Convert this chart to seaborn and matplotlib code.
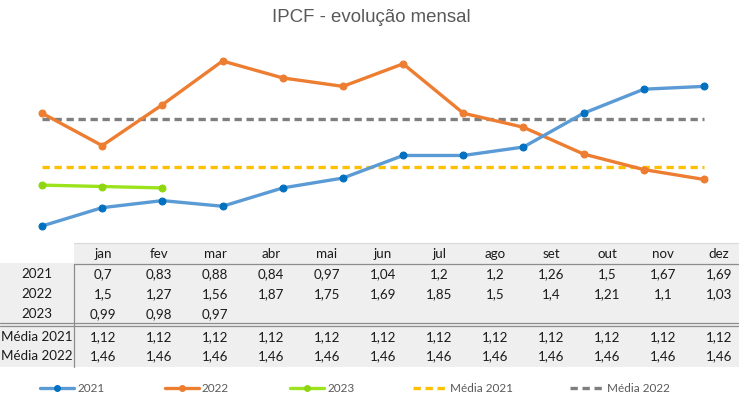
import numpy as np
import pandas as pd
import seaborn as sns
import matplotlib.pyplot as plt

months = ["jan", "fev", "mar", "abr", "mai", "jun", "jul", "ago", "set", "out", "nov", "dez"]
ipcf2021 = [0.7, 0.83, 0.88, 0.84, 0.97, 1.04, 1.2, 1.2, 1.26, 1.5, 1.67, 1.69]
ipcf2022 = [1.5, 1.27, 1.56, 1.87, 1.75, 1.69, 1.85, 1.5, 1.4, 1.21, 1.1, 1.03]
ipcf2023 = [0.99, 0.98, 0.97]
media2021 = [1.12] * 12
media2022 = [1.46] * 12

sns.set_theme(style="white")
plt.rcParams["font.family"] = ["Liberation Sans", "DejaVu Sans"]

W, H = 739, 398
fig = plt.figure(figsize=(W / 100, H / 100), dpi=100)


def px(x0, y0, x1, y1):
    return [x0 / W, 1 - y1 / H, (x1 - x0) / W, (y1 - y0) / H]


# chart area
ax = fig.add_axes(px(42, 61, 704, 226))
series = [
    ("Média 2022", media2022, "#7f7f7f", "#7f7f7f", True),
    ("Média 2021", media2021, "#ffc000", "#ffc000", True),
    ("2023", ipcf2023, "#9be31c", "#8fd610", False),
    ("2022", ipcf2022, "#ed7d31", "#ed7d31", False),
    ("2021", ipcf2021, "#5b9bd5", "#0070c0", False),
]
for name, vals, col, mcol, dashed in series:
    d = pd.DataFrame({"m": np.arange(len(vals)), "v": vals})
    sns.lineplot(data=d, x="m", y="v", ax=ax, color=col, linewidth=2.4,
                 linestyle=(0, (2.2, 1.4)) if dashed else "-",
                 marker=None if dashed else "o", markersize=5,
                 markerfacecolor=mcol, markeredgecolor=mcol, clip_on=False)
ax.set_xlim(0, 11)
ax.set_ylim(0.7, 1.87)
ax.axis("off")

# overlay in pixel coordinates for title, table, legend
ov = fig.add_axes([0, 0, 1, 1], zorder=-1)
ov.set_xlim(0, W)
ov.set_ylim(H, 0)
ov.axis("off")

ov.text(371, 17, "IPCF - evolução mensal", ha="center", va="center",
        fontsize=13.4, color="#595959")

bg = "#efefef"
ov.add_patch(plt.Rectangle((74, 243), W - 74, 20, color=bg, lw=0))
ov.add_patch(plt.Rectangle((0, 263), W, 104, color=bg, lw=0))
ov.plot([74, W], [243, 243], color="#d9d9d9", lw=0.8)
ov.plot([74, W], [263.5, 263.5], color="#8c8c8c", lw=0.9)
ov.plot([74, 74], [263.5, 367], color="#8c8c8c", lw=0.9)
ov.plot([0, W], [323, 323], color="#8c8c8c", lw=0.9)
ov.plot([0, W], [326, 326], color="#8c8c8c", lw=0.9)

tfont = dict(fontsize=9.6, color="#1a1a1a", family=["Lato", "DejaVu Sans"],
             ha="center", va="center")
fmt = lambda v: f"{v:g}".replace(".", ",")
rows = [("2021", ipcf2021, 274), ("2022", ipcf2022, 294), ("2023", ipcf2023, 314),
        ("Média 2021", media2021, 337), ("Média 2022", media2022, 356)]
for i, m in enumerate(months):
    ov.text(103 + 56 * i, 254, m, **tfont)
for label, vals, y in rows:
    ov.text(37, y, label, **tfont)
    for i, v in enumerate(vals):
        ov.text(103 + 56 * i, y, fmt(v), **tfont)

# legend
leg = [("2021", "#5b9bd5", "#0070c0", False, 40),
       ("2022", "#ed7d31", "#ed7d31", False, 165),
       ("2023", "#9be31c", "#8fd610", False, 290),
       ("Média 2021", "#ffc000", None, True, 413),
       ("Média 2022", "#7f7f7f", None, True, 570)]
for name, col, mcol, dashed, x0 in leg:
    ov.plot([x0, x0 + 34], [388, 388], color=col, lw=2.4,
            linestyle=(0, (2.2, 1.4)) if dashed else "-")
    if mcol:
        ov.plot([x0 + 17], [388], "o", color=mcol, markersize=4)
    ov.text(x0 + 37, 388, name, fontsize=8.5, color="#595959",
            family=["Lato", "DejaVu Sans"], ha="left", va="center")

fig.savefig("out.png", dpi=100)
